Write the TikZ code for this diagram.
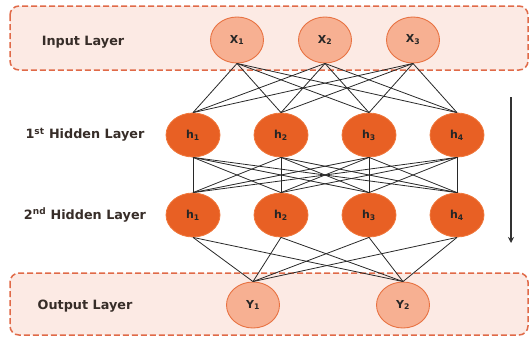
\documentclass[tikz,border=0pt]{standalone}
\usepackage{fontspec}
\setmainfont{DejaVu Sans}
\usetikzlibrary{shapes.geometric,arrows.meta}
\definecolor{boxfill}{RGB}{252,234,228}
\definecolor{boxline}{RGB}{224,106,72}
\definecolor{iofill}{RGB}{247,176,146}
\definecolor{ioline}{RGB}{232,114,66}
\definecolor{hidfill}{RGB}{232,96,36}
\definecolor{hidline}{RGB}{240,120,60}
\definecolor{txt}{RGB}{55,45,40}
\definecolor{wire}{RGB}{40,40,40}
\tikzset{
  layerbox/.style={draw=boxline, fill=boxfill, line width=1.5pt, dash pattern=on 6pt off 3pt, rounded corners=9pt},
  ionode/.style={ellipse, draw=ioline, fill=iofill, line width=0.9pt, minimum width=53pt, minimum height=46pt, inner sep=0pt, font=\bfseries\fontsize{11}{13}\selectfont, text=black!85},
  hidnode/.style={ellipse, draw=hidline, fill=hidfill, line width=0.8pt, minimum width=54pt, minimum height=44pt, inner sep=0pt, font=\bfseries\fontsize{11}{13}\selectfont, text=black!85},
  layerlabel/.style={font=\bfseries\fontsize{12.8}{14}\selectfont, text=txt},
  wireline/.style={draw=wire, line width=0.8pt},
  flowarrow/.style={draw=black!80, line width=1.8pt, -{Stealth[length=6pt,width=6pt]}}
}
\begin{document}
\begin{tikzpicture}[x=1pt,y=-1pt]
\useasboundingbox (0,0) rectangle (529,338);
% layer boxes
\path[layerbox] (10,6) rectangle (528,70);
\path[layerbox] (10,273) rectangle (528,335);
% labels
\node[layerlabel] (lin) at (83,42) {Input Layer};
\node[layerlabel] (lh1) at (85,135) {1\textsuperscript{st} Hidden Layer};
\node[layerlabel] (lh2) at (85,215) {2\textsuperscript{nd} Hidden Layer};
\node[layerlabel] (lout) at (85,306) {Output Layer};
% nodes
\node[ionode] (x1) at (237,40) {X\textsubscript{1}};
\node[ionode] (x2) at (325,40) {X\textsubscript{2}};
\node[ionode] (x3) at (413,40) {X\textsubscript{3}};
\foreach \i/\x in {1/193,2/281,3/369,4/457}{
  \node[hidnode] (a\i) at (\x,135) {h\textsubscript{\i}};
  \node[hidnode] (b\i) at (\x,215) {h\textsubscript{\i}};
}
\node[ionode] (y1) at (253,305) {Y\textsubscript{1}};
\node[ionode] (y2) at (403,305) {Y\textsubscript{2}};
% connections
\foreach \i in {1,2,3}{\foreach \j in {1,2,3,4}{\draw[wireline] (x\i.south) -- (a\j.north);}}
\foreach \i in {1,2,3,4}{\foreach \j in {1,2,3,4}{\draw[wireline] (a\i.south) -- (b\j.north);}}
\foreach \i in {1,2,3,4}{\foreach \j in {1,2}{\draw[wireline] (b\i.south) -- (y\j.north);}}
% arrow
\coordinate (ast) at (511,97);
\coordinate (aen) at (511,243);
\draw[flowarrow] (ast) -- (aen);
\end{tikzpicture}
\end{document}
